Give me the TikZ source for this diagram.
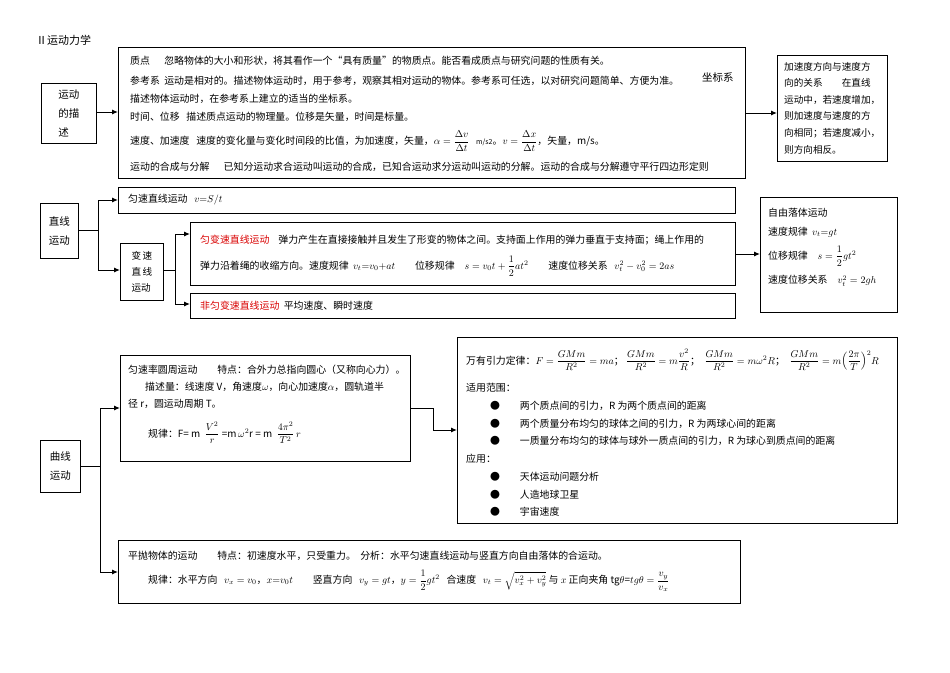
\documentclass[tikz,border=0pt]{standalone}
\usepackage{fontspec}
\usepackage{amsmath}
\newfontfamily\cjk{Noto Sans CJK SC}
\usetikzlibrary{arrows.meta}
\tikzset{
 bx/.style={draw, line width=0.9pt, inner sep=0pt, anchor=north west},
 tx/.style={anchor=west, inner sep=0pt, font=\cjk\fontsize{9.9}{11}\selectfont},
 arr/.style={line width=1pt, -{Latex[length=6pt,width=5pt]}},
 ln/.style={line width=1pt}
}
\begin{document}
\begin{tikzpicture}[x=1pt,y=-1pt]
\useasboundingbox (0,0) rectangle (950,672);
\node[tx, font=\cjk\fontsize{11}{12}\selectfont] (title) at (36,40) {Ⅱ运动力学};
% section 1
\node[bx, minimum width=55, minimum height=60] (d1) at (41,83) {};
\node[tx, anchor=center, font=\cjk\fontsize{10.5}{19}\selectfont, align=left] (d1t) at (d1.center) {运动\\的描\\述};
\node[bx, minimum width=627, minimum height=131] (b1) at (118,47) {};
\node[tx] (l1) at (130,61) {质点\quad\ \ 忽略物体的大小和形状，将其看作一个“具有质量”的物质点。能否看成质点与研究问题的性质有关。};
\node[tx] (l2) at (130,81) {参考系\ \ 运动是相对的。描述物体运动时，用于参考，观察其相对运动的物体。参考系可任选，以对研究问题简单、方便为准。};
\node[tx, font=\cjk\fontsize{10.5}{12}\selectfont] (l2b) at (702,78) {坐标系};
\node[tx] (l3) at (130,99) {描述物体运动时，在参考系上建立的适当的坐标系。};
\node[tx] (l4) at (130,117) {时间、位移\ \ \ 描述质点运动的物理量。位移是矢量，时间是标量。};
\node[tx] (l5) at (130,141) {速度、加速度\ \ \ 速度的变化量与变化时间段的比值，为加速度，矢量，$\alpha=\dfrac{\Delta v}{\Delta t}$\ \ \ {\fontsize{7}{8}\selectfont m/s2}。$v=\dfrac{\Delta x}{\Delta t}$，矢量，m/s。};
\node[tx] (l6) at (130,167) {运动的合成与分解\quad\ \ 已知分运动求合运动叫运动的合成，已知合运动求分运动叫运动的分解。运动的合成与分解遵守平行四边形定则};
\node[bx, minimum width=110, minimum height=106] (r1) at (777,55) {};
\node[tx, align=left, font=\cjk\fontsize{9.6}{16.6}\selectfont] (r1t) at (784,108) {加速度方向与速度方\\向的关系\qquad 在直线\\运动中，若速度增加，\\则加速度与速度的方\\向相同；若速度减小，\\则方向相反。};
\draw[arr] (d1.east |- 0,112) -- (b1.west |- 0,112);
\draw[arr] (b1.east |- 0,113) -- (r1.west |- 0,113);
% section 2
\node[bx, minimum width=38, minimum height=55] (d2) at (40,203) {};
\node[tx, anchor=center, align=left, font=\cjk\fontsize{10.5}{19}\selectfont] (d2t) at (d2.center) {直线\\运动};
\node[bx, minimum width=617, minimum height=26] (u1) at (118,187) {};
\node[tx] (u1t) at (128,200) {匀速直线运动\ \ \ $v{=}S/t$};
\node[bx, minimum width=43, minimum height=57] (vb) at (120,243) {};
\node[tx, anchor=center, align=left, font=\cjk\fontsize{9.6}{16}\selectfont] (vbt) at (vb.center) {变\,速\\直\,线\\运动};
\node[bx, minimum width=545, minimum height=63] (ua) at (190,222) {};
\node[tx] (ua1) at (200,240) {{\color{red!85!black}匀变速直线运动}\ \ \ \ 弹力产生在直接接触并且发生了形变的物体之间。支持面上作用的弹力垂直于支持面；绳上作用的};
\node[tx] (ua2) at (200,266) {弹力沿着绳的收缩方向。速度规律\ \ $v_t{=}v_0{+}at$\qquad 位移规律\quad $s=v_0t+\dfrac12at^2$\qquad 速度位移关系\ \ \ $v_t^2-v_0^2=2as$};
\node[bx, minimum width=545, minimum height=25] (na) at (190,293) {};
\node[tx] (nat) at (200,306) {{\color{red!85!black}非匀变速直线运动}\ \ 平均速度、瞬时速度};
\node[bx, minimum width=137, minimum height=115] (ff) at (760,197) {};
\node[tx] (f1) at (768,213) {自由落体运动};
\node[tx] (f2) at (768,232) {速度规律\ \ $v_t{=}gt$};
\node[tx] (f3) at (768,256) {位移规律\quad $s=\dfrac12gt^2$};
\node[tx] (f4) at (768,281) {速度位移关系\quad $v_t^2=2gh$};
\draw[ln] (d2.east |- 0,230) -- (98,230) coordinate (j2);
\draw[arr] (j2) |- (u1.west |- 0,200);
\draw[arr] (j2) |- (vb.west |- 0,270);
\draw[ln] (vb.east |- 0,270) -- (175,270) coordinate (j3);
\draw[arr] (j3) |- (ua.west |- 0,234);
\draw[arr] (j3) |- (na.west |- 0,304);
\draw[arr] (ua.east |- 0,254) -- (ff.west |- 0,254);
% section 3
\node[bx, minimum width=40, minimum height=52] (d3) at (40,440) {};
\node[tx, anchor=center, align=left, font=\cjk\fontsize{10.5}{19}\selectfont] (d3t) at (d3.center) {曲线\\运动};
\node[bx, minimum width=290, minimum height=106] (cc) at (120,355) {};
\node[tx] (c1) at (128,370) {匀速率圆周运动\qquad 特点：合外力总指向圆心（又称向心力）。};
\node[tx] (c2) at (145,387) {描述量：线速度 V，角速度$\omega$，向心加速度$\alpha$，圆轨道半};
\node[tx] (c3) at (128,404) {径 r，圆运动周期 T。};
\node[tx] (c4) at (148,433) {规律：F= m\ \ $\dfrac{V^2}{r}$ =m$\,\omega^2$r = m\ \ $\dfrac{4\pi^2}{T^2}\,r$};
\node[bx, minimum width=440, minimum height=186] (gv) at (457,337) {};
\node[tx] (g1) at (466,360) {万有引力定律：$F=\dfrac{GMm}{R^2}=ma$；\ $\dfrac{GMm}{R^2}=m\dfrac{v^2}{R}$；\ \ $\dfrac{GMm}{R^2}=m\omega^2R$；\ \ $\dfrac{GMm}{R^2}=m\Bigl(\dfrac{2\pi}{T}\Bigr)^2R$};
\node[tx] (g2) at (466,388) {适用范围：};
\node[tx] (g3) at (490,406) {●\qquad 两个质点间的引力，R 为两个质点间的距离};
\node[tx] (g4) at (490,424) {●\qquad 两个质量分布均匀的球体之间的引力，R 为两球心间的距离};
\node[tx] (g5) at (490,441) {●\qquad 一质量分布均匀的球体与球外一质点间的引力，R 为球心到质点间的距离};
\node[tx] (g6) at (466,459) {应用：};
\node[tx] (g7) at (490,477) {●\qquad 天体运动问题分析};
\node[tx] (g8) at (490,495) {●\qquad 人造地球卫星};
\node[tx] (g9) at (490,512) {●\qquad 宇宙速度};
\node[bx, minimum width=622, minimum height=63] (pp) at (118,540) {};
\node[tx] (p1) at (128,556) {平抛物体的运动\qquad 特点：初速度水平，只受重力。\ \ 分析：水平匀速直线运动与竖直方向自由落体的合运动。};
\node[tx] (p2) at (148,581) {规律：水平方向\ \ \ $v_x=v_0$，$x{=}v_0t$\qquad 竖直方向\ \ \ $v_y=gt$，$y=\dfrac12gt^2$\ \ \ 合速度\ \ \ $v_t=\sqrt{v_x^2+v_y^2}$ 与 $x$ 正向夹角 tg$\theta$=$tg\theta=\dfrac{v_y}{v_x}$};
\draw[ln] (d3.east |- 0,466) -- (100,466) coordinate (j4);
\draw[arr] (j4) |- (cc.west |- 0,408);
\draw[arr] (j4) |- (pp.west |- 0,572);
\draw[ln] (cc.east |- 0,408) -- (433,408) coordinate (j5);
\draw[arr] (j5) |- (gv.west |- 0,430);
\end{tikzpicture}
\end{document}
